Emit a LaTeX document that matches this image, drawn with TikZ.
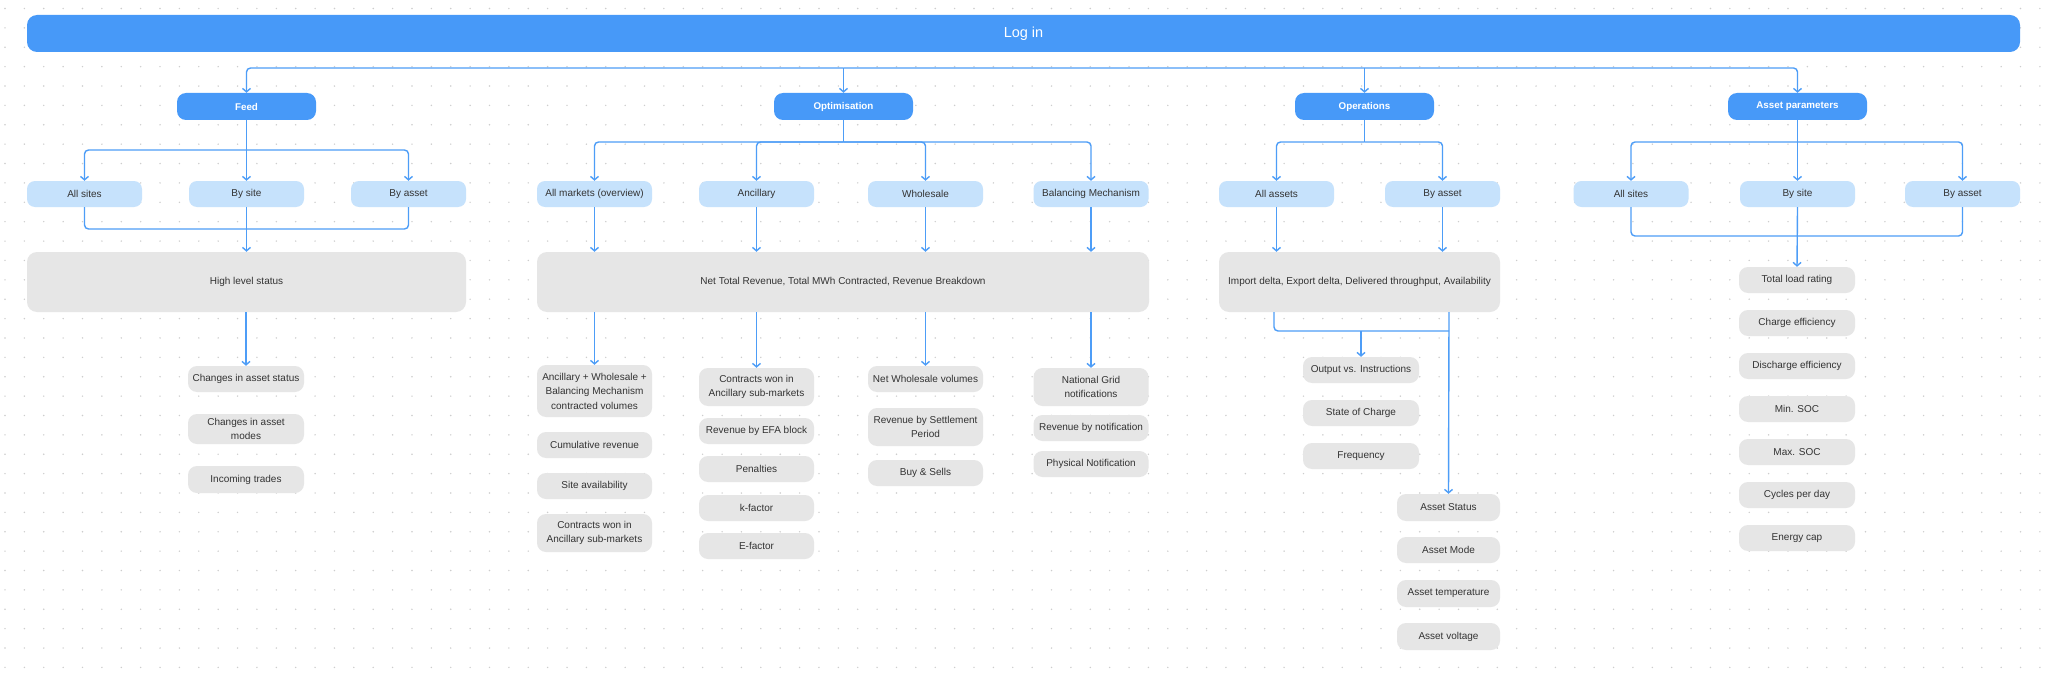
\documentclass[tikz,border=0pt]{standalone}
\usepackage{fontspec}
\setmainfont{Liberation Sans}
\usetikzlibrary{arrows.meta}
\definecolor{cblue}{RGB}{71,153,248}
\definecolor{clight}{RGB}{198,226,252}
\definecolor{cgrey}{RGB}{230,230,230}
\definecolor{cline}{RGB}{77,157,247}
\definecolor{ctext}{RGB}{51,51,51}
\definecolor{cdot}{RGB}{205,205,205}
\newcommand\labfont{\fontsize{10}{14.5}\selectfont}
\tikzset{
  lvlone/.style={rectangle, rounded corners=9pt, fill=cblue, text=white,
    font=\fontsize{9.8}{12}\selectfont\bfseries, minimum width=139pt, minimum height=27pt, inner sep=0pt},
  lvltwo/.style={rectangle, rounded corners=8pt, fill=clight, text=ctext,
    font=\labfont, minimum width=115pt, minimum height=26pt, inner sep=0pt},
  bigbox/.style={rectangle, rounded corners=10pt, fill=cgrey, text=ctext,
    font=\labfont, minimum height=60pt, inner sep=0pt},
  item/.style={rectangle, rounded corners=9pt, fill=cgrey, text=ctext, align=center,
    font=\labfont, minimum height=26pt, inner sep=0pt},
  conn/.style={draw=cline, line width=1.4pt, rounded corners=4pt},
  arr/.style={conn, -{Straight Barb[length=3.5pt,width=8pt]}},
}
\begin{document}
\begin{tikzpicture}[x=1pt,y=-1pt]
\useasboundingbox[fill=white] (0,0) rectangle (2048,674);
% dotted grid
\foreach \i in {0,...,105}{
  \foreach \j in {0,...,34}{
    \fill[cdot] ({5+19.38*\i},{8.5+19.38*\j}) circle (0.8pt);
  }
}
% top bar
\node[rectangle, rounded corners=10pt, fill=cblue, text=white, minimum width=1993pt, minimum height=37pt,
  inner sep=0pt, font=\fontsize{14.5}{16}\selectfont] (login) at (1023.5,33.5) {Log in};
% level one
\node[lvlone] (feed) at (246.5,106.5) {Feed};
\node[lvlone] (opt)  at (843.5,106.5) {Optimisation};
\node[lvlone] (ops)  at (1364.5,106.5) {Operations};
\node[lvlone] (ap)   at (1797.5,106.5) {Asset parameters};
% level two
\node[lvltwo] (fall)   at (84.5,194) {All sites};
\node[lvltwo] (fsite)  at (246.5,194) {By site};
\node[lvltwo] (fasset) at (408.5,194) {By asset};
\node[lvltwo] (oall)   at (594.5,194) {All markets (overview)};
\node[lvltwo] (oanc)   at (756.5,194) {Ancillary};
\node[lvltwo] (owhs)   at (925.5,194) {Wholesale};
\node[lvltwo] (obm)    at (1091,194) {Balancing Mechanism};
\node[lvltwo] (pall)   at (1276.5,194) {All assets};
\node[lvltwo] (passet) at (1442.5,194) {By asset};
\node[lvltwo] (aall)   at (1631,194) {All sites};
\node[lvltwo] (asite)  at (1797.5,194) {By site};
\node[lvltwo] (aasset) at (1962.5,194) {By asset};
% big boxes
\node[bigbox, minimum width=439pt] (hls) at (246.5,282) {High level status};
\node[bigbox, minimum width=612pt] (net) at (843,282) {Net Total Revenue, Total MWh Contracted, Revenue Breakdown};
\node[bigbox, minimum width=281pt] (imp) at (1359.5,282) {Import delta, Export delta, Delivered throughput, Availability};
% feed items
\node[item, minimum width=116pt] (fi1) at (246,379) {Changes in asset status};
\node[item, minimum width=116pt, minimum height=30pt] (fi2) at (246,429) {Changes in asset\\modes};
\node[item, minimum width=116pt, minimum height=27pt] (fi3) at (246,479.5) {Incoming trades};
% optimisation items
\node[item, minimum width=115pt, minimum height=52pt] (o1a) at (594.5,391) {Ancillary + Wholesale +\\Balancing Mechanism\\contracted volumes};
\node[item, minimum width=115pt] (o1b) at (594.5,445) {Cumulative revenue};
\node[item, minimum width=115pt] (o1c) at (594.5,486) {Site availability};
\node[item, minimum width=115pt, minimum height=38pt] (o1d) at (594.5,533) {Contracts won in\\Ancillary sub-markets};
\node[item, minimum width=115pt, minimum height=38pt] (o2a) at (756.5,387) {Contracts won in\\Ancillary sub-markets};
\node[item, minimum width=115pt] (o2b) at (756.5,431) {Revenue by EFA block};
\node[item, minimum width=115pt] (o2c) at (756.5,469) {Penalties};
\node[item, minimum width=115pt] (o2d) at (756.5,508) {k-factor};
\node[item, minimum width=115pt] (o2e) at (756.5,546) {E-factor};
\node[item, minimum width=115pt] (o3a) at (925.5,379) {Net Wholesale volumes};
\node[item, minimum width=115pt, minimum height=38pt] (o3b) at (925.5,427) {Revenue by Settlement\\Period};
\node[item, minimum width=115pt] (o3c) at (925.5,473) {Buy \& Sells};
\node[item, minimum width=115pt, minimum height=38pt] (o4a) at (1091,387) {National Grid\\notifications};
\node[item, minimum width=115pt] (o4b) at (1091,428) {Revenue by notification};
\node[item, minimum width=115pt] (o4c) at (1091,464) {Physical Notification};
% operations items
\node[item, minimum width=116pt] (pa1) at (1361,370) {Output vs. Instructions};
\node[item, minimum width=116pt] (pa2) at (1361,413) {State of Charge};
\node[item, minimum width=116pt] (pa3) at (1361,456) {Frequency};
\node[item, minimum width=103pt, minimum height=27pt] (pb1) at (1448.5,507.5) {Asset Status};
\node[item, minimum width=103pt] (pb2) at (1448.5,550) {Asset Mode};
\node[item, minimum width=103pt, minimum height=27pt] (pb3) at (1448.5,593.5) {Asset temperature};
\node[item, minimum width=103pt, minimum height=27pt] (pb4) at (1448.5,636.5) {Asset voltage};
% asset parameter items
\node[item, minimum width=116pt] (ap1) at (1797,280) {Total load rating};
\node[item, minimum width=116pt] (ap2) at (1797,323) {Charge efficiency};
\node[item, minimum width=116pt] (ap3) at (1797,366) {Discharge efficiency};
\node[item, minimum width=116pt] (ap4) at (1797,409) {Min. SOC};
\node[item, minimum width=116pt] (ap5) at (1797,452) {Max. SOC};
\node[item, minimum width=116pt] (ap6) at (1797,495) {Cycles per day};
\node[item, minimum width=116pt] (ap7) at (1797,538) {Energy cap};
% coordinates for bus lines
\coordinate (tl) at (0,68);
\coordinate (fb) at (0,150);
\coordinate (ob) at (0,142);
\coordinate (fj) at (246.5,229);
\coordinate (aj) at (1797.5,236);
\coordinate (pjl) at (1274,331);
\coordinate (pjr) at (1449,331);
% top bus
\draw[arr] (tl -| opt) -| (feed.north);
\draw[arr] (tl -| opt) -| (ap.north);
\draw[arr] (tl -| opt) -- (opt.north);
\draw[arr] (tl -| ops) -- (ops.north);
% feed
\draw[conn] (feed.south) -- (feed.south |- fb);
\draw[arr] (feed.south |- fb) -| (fall.north);
\draw[arr] (feed.south |- fb) -- (fsite.north);
\draw[arr] (feed.south |- fb) -| (fasset.north);
\draw[conn] (fall.south) |- (fj);
\draw[conn] (fasset.south) |- (fj);
\draw[arr] (fsite.south) -- (hls.north);
\draw[arr] (hls.south -| fi1) -- (fi1.north);
% optimisation
\draw[conn] (opt.south) -- (opt.south |- ob);
\draw[arr] (opt.south |- ob) -| (oall.north);
\draw[arr] (opt.south |- ob) -| (oanc.north);
\draw[arr] (opt.south |- ob) -| (owhs.north);
\draw[arr] (opt.south |- ob) -| (obm.north);
\draw[arr] (oall.south) -- (oall.south |- net.north);
\draw[arr] (oanc.south) -- (oanc.south |- net.north);
\draw[arr] (owhs.south) -- (owhs.south |- net.north);
\draw[arr] (obm.south) -- (obm.south |- net.north);
\draw[arr] (net.south -| o1a) -- (o1a.north);
\draw[arr] (net.south -| o2a) -- (o2a.north);
\draw[arr] (net.south -| o3a) -- (o3a.north);
\draw[arr] (net.south -| o4a) -- (o4a.north);
% operations
\draw[conn] (ops.south) -- (ops.south |- ob);
\draw[arr] (ops.south |- ob) -| (pall.north);
\draw[arr] (ops.south |- ob) -| (passet.north);
\draw[arr] (pall.south) -- (pall.south |- imp.north);
\draw[arr] (passet.south) -- (passet.south |- imp.north);
\draw[conn] (imp.south -| pjl) |- (pjr);
\draw[arr] (imp.south -| pjr) -- (pb1.north);
\draw[arr] (pa1.north |- pjl) -- (pa1.north);
% asset parameters
\draw[conn] (ap.south) -- (ap.south |- ob);
\draw[arr] (ap.south |- ob) -| (aall.north);
\draw[arr] (ap.south |- ob) -- (asite.north);
\draw[arr] (ap.south |- ob) -| (aasset.north);
\draw[conn] (aall.south) |- (aj);
\draw[conn] (aasset.south) |- (aj);
\draw[arr] (asite.south) -- (ap1.north);
\end{tikzpicture}
\end{document}
